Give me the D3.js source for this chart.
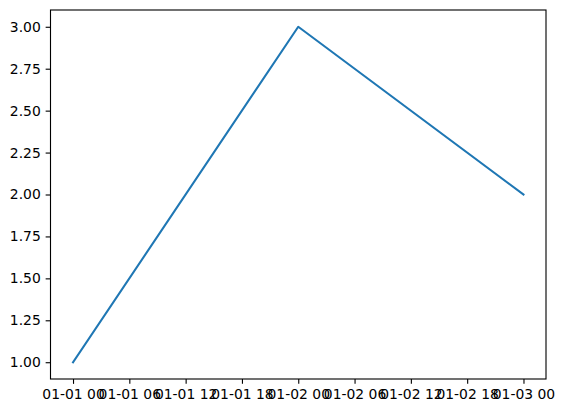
<!DOCTYPE html>
<html><head><meta charset="utf-8">
<script src="https://cdn.jsdelivr.net/npm/d3@7"></script>
<style>
html,body{margin:0;padding:0;background:#fff;}
svg{display:block;}
text{font-family:"DejaVu Sans",sans-serif;}
</style></head>
<body>
<script>
const dates = ["2020-01-01T00:00:00Z","2020-01-02T00:00:00Z","2020-01-03T00:00:00Z"];
const values = [1, 3, 2];
const yTicks = [1.00,1.25,1.50,1.75,2.00,2.25,2.50,2.75,3.00];
const xTickHours = [0,6,12,18,24,30,36,42,48];

const W = 564, H = 413;
const mLeft = 50.5, mRight = 546, mTop = 10, mBottom = 379;

const t = dates.map(d => new Date(d));
const t0 = t[0].getTime(), t1 = t[t.length-1].getTime();
const span = t1 - t0;
const x = d3.scaleUtc().domain([new Date(t0 - span*0.05), new Date(t1 + span*0.05)]).range([mLeft, mRight]);
const y = d3.scaleLinear().domain([1 - 0.1, 3 + 0.1]).range([mBottom, mTop]);

const svg = d3.select("body").append("svg").attr("width", W).attr("height", H);

const fmt = d3.utcFormat("%m-%d %H");
const xt = xTickHours.map(h => new Date(t0 + h*3600000));

const xAxis = d3.axisBottom(x).tickValues(xt).tickFormat(fmt).tickSize(4.86).tickPadding(4.86);
const gx = svg.append("g").attr("transform", `translate(0,${mBottom})`).call(xAxis);
const yAxis = d3.axisLeft(y).tickValues(yTicks).tickFormat(d3.format(".2f")).tickSize(4.86).tickPadding(4.86);
const gy = svg.append("g").attr("transform", `translate(${mLeft},0)`).call(yAxis);

[gx, gy].forEach(g => {
  g.select(".domain").remove();
  g.selectAll(".tick line").attr("stroke", "#000").attr("stroke-width", 1.11);
  g.selectAll(".tick text").attr("fill", "#000").style("font-size", "13.9px").style("font-family", "DejaVu Sans");
});
gx.selectAll(".tick text").attr("dy", "0.75em");

const line = d3.line().x((d,i) => x(t[i])).y(d => y(d));
svg.append("path").datum(values).attr("d", line)
  .attr("fill", "none").attr("stroke", "#1f77b4").attr("stroke-width", 2.08)
  .attr("stroke-linecap", "square").attr("stroke-linejoin", "round");

svg.append("rect").attr("x", mLeft).attr("y", mTop).attr("width", mRight-mLeft).attr("height", mBottom-mTop)
  .attr("fill", "none").attr("stroke", "#000").attr("stroke-width", 1.11);
</script>
</body></html>
